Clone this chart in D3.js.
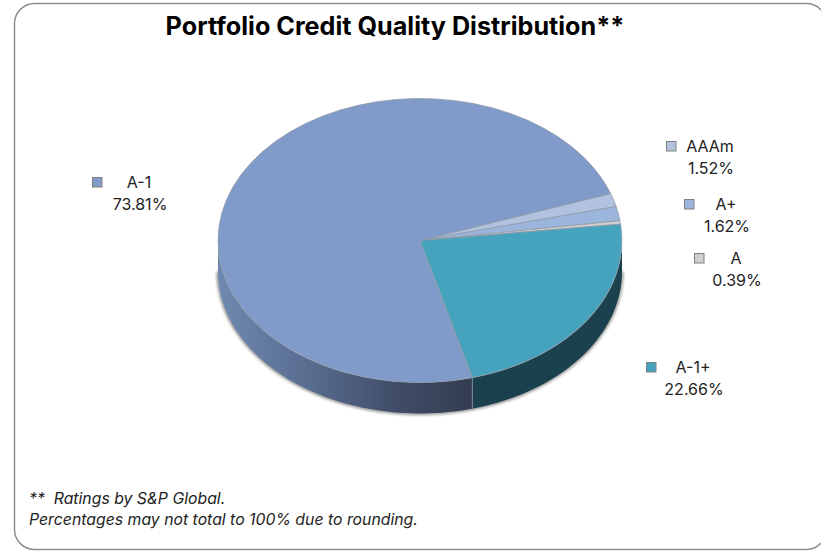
<!DOCTYPE html>
<html>
<head>
<meta charset="utf-8">
<script src="https://cdn.jsdelivr.net/npm/d3@7"></script>
<style>
html, body { margin: 0; padding: 0; background: #fff; }
svg { display: block; }
text { font-family: Inter, sans-serif; fill: #222; }
</style>
</head>
<body>
<div class="chart"></div>
<script>
var ratings = ["AAAm", "A+", "A", "A-1+", "A-1"];
var shares = [1.52, 1.62, 0.39, 22.66, 73.81];
var titleText = "Portfolio Credit Quality Distribution**";
var notes = ["**  Ratings by S&P Global.", "Percentages may not total to 100% due to rounding."];

var colors = ["#b0c2de", "#9bb5dc", "#d0d0d0", "#46a3bd", "#809ac9"];
var wallColors = { "A-1+": "#1c414e" };
// swatch left/top, label centre for each rating
var legendSpots = [
    { x: 666, y: 141, cx: 711 },
    { x: 684, y: 199, cx: 727 },
    { x: 694, y: 253, cx: 737 },
    { x: 646, y: 362, cx: 694 },
    { x: 92, y: 177, cx: 140 }
];

var cx = 420, cy = 240.5, rx = 202, ry = 142, depth = 31;
var W = 821, H = 551;

var svg = d3.select(".chart").append("svg").attr("width", W).attr("height", H);
var defs = svg.append("defs");

var wallGrad = defs.append("linearGradient").attr("id", "wallA1")
    .attr("gradientUnits", "userSpaceOnUse")
    .attr("x1", cx - rx).attr("x2", cx + 53).attr("y1", 0).attr("y2", 0);
wallGrad.append("stop").attr("offset", "0").attr("stop-color", "#6f89b0");
wallGrad.append("stop").attr("offset", "0.33").attr("stop-color", "#5a6f92");
wallGrad.append("stop").attr("offset", "0.7").attr("stop-color", "#414d68");
wallGrad.append("stop").attr("offset", "1").attr("stop-color", "#333c50");

var blur = defs.append("filter").attr("id", "soft")
    .attr("x", "-5%").attr("y", "-5%").attr("width", "110%").attr("height", "110%");
blur.append("feGaussianBlur").attr("stdDeviation", 1.5);

// frame runs off the right side of the picture
svg.append("rect")
    .attr("x", 14.5).attr("y", 3.5)
    .attr("width", 812).attr("height", 546)
    .attr("rx", 20).attr("ry", 20)
    .attr("fill", "#fff").attr("stroke", "#8e8e8e").attr("stroke-width", 1.5);

svg.append("text").attr("class", "title")
    .attr("x", 395).attr("y", 35)
    .attr("text-anchor", "middle")
    .style("font-size", "25.2px").style("font-weight", 700).style("fill", "#000")
    .text(titleText);

var pie = d3.pie().sort(null).value(function(d) { return d; })
    .startAngle(70.7 * Math.PI / 180)
    .endAngle((70.7 + 360) * Math.PI / 180);
var slices = pie(shares);

var xScale = d3.scaleLinear().domain([-1, 1]).range([cx - rx, cx + rx]);
var yScale = d3.scaleLinear().domain([-1, 1]).range([cy - ry, cy + ry]);

// wall of a slice, only the part on the front of the pie
var wallPath = function(a0, a1) {
    var from = Math.max(a0, Math.PI / 2), to = Math.min(a1, 3 * Math.PI / 2);
    if (to <= from) return null;
    var pts = d3.range(0, 61).map(function(i) {
        var a = from + (to - from) * i / 60;
        return [xScale(Math.sin(a)), yScale(-Math.cos(a))];
    });
    var lower = pts.slice().reverse().map(function(p) { return [p[0], p[1] + depth]; });
    return d3.line()(pts.concat(lower)) + "Z";
};

var walls = svg.append("g").attr("class", "walls");
var outline = d3.range(0, 121).map(function(i) {
    var a = Math.PI / 2 + Math.PI * i / 120;
    return [xScale(Math.sin(a)), yScale(-Math.cos(a)) + depth];
});
walls.append("path")
    .attr("d", d3.line()(outline))
    .attr("fill", "none").attr("stroke", "#777").attr("stroke-width", 2.5)
    .attr("filter", "url(#soft)");

// pie start wraps past a full turn, so test both turns for each slice
slices.forEach(function(s, i) {
    [0, -2 * Math.PI].forEach(function(shift) {
        var d = wallPath(s.startAngle + shift, s.endAngle + shift);
        if (!d) return;
        walls.append("path")
            .attr("d", d)
            .attr("fill", wallColors[ratings[i]] || "url(#wallA1)")
            .attr("stroke", "none");
    });
});

// seam between the two walls
var seamAngle = slices[3].endAngle;
walls.append("line")
    .attr("x1", xScale(Math.sin(seamAngle))).attr("x2", xScale(Math.sin(seamAngle)))
    .attr("y1", yScale(-Math.cos(seamAngle))).attr("y2", yScale(-Math.cos(seamAngle)) + depth)
    .attr("stroke", "#7b8a90").attr("stroke-width", 1);

var arc = d3.arc().innerRadius(0).outerRadius(1);
svg.append("g")
    .attr("class", "slices")
    .attr("transform", "translate(" + cx + "," + cy + ") scale(" + rx + "," + ry + ")")
    .selectAll("path").data(slices).enter().append("path")
    .attr("d", arc)
    .attr("fill", function(d, i) { return colors[i]; })
    .attr("stroke", "#8f9aa8")
    .attr("stroke-width", 0.8)
    .attr("vector-effect", "non-scaling-stroke");

var legend = svg.append("g").attr("class", "legend")
    .selectAll("g").data(ratings).enter().append("g");

legend.append("rect")
    .attr("x", function(d, i) { return legendSpots[i].x + 0.5; })
    .attr("y", function(d, i) { return legendSpots[i].y + 0.5; })
    .attr("width", 9.5).attr("height", 9.5)
    .attr("fill", function(d, i) { return colors[i]; })
    .attr("stroke", "#808080").attr("stroke-width", 1);

legend.append("text")
    .attr("x", function(d, i) { return legendSpots[i].cx - 1; })
    .attr("y", function(d, i) { return legendSpots[i].y + 11; })
    .attr("text-anchor", "middle")
    .style("font-size", "16px")
    .text(function(d) { return d; });

legend.append("text")
    .attr("x", function(d, i) { return legendSpots[i].cx; })
    .attr("y", function(d, i) { return legendSpots[i].y + 33; })
    .attr("text-anchor", "middle")
    .style("font-size", "16px")
    .text(function(d, i) { return shares[i].toFixed(2) + "%"; });

svg.append("g").attr("class", "notes")
    .selectAll("text").data(notes).enter().append("text")
    .attr("x", 29)
    .attr("y", function(d, i) { return 504 + i * 21; })
    .style("font-size", "15.8px").style("font-style", "italic").style("white-space", "pre")
    .text(function(d) { return d; });
</script>
</body>
</html>
